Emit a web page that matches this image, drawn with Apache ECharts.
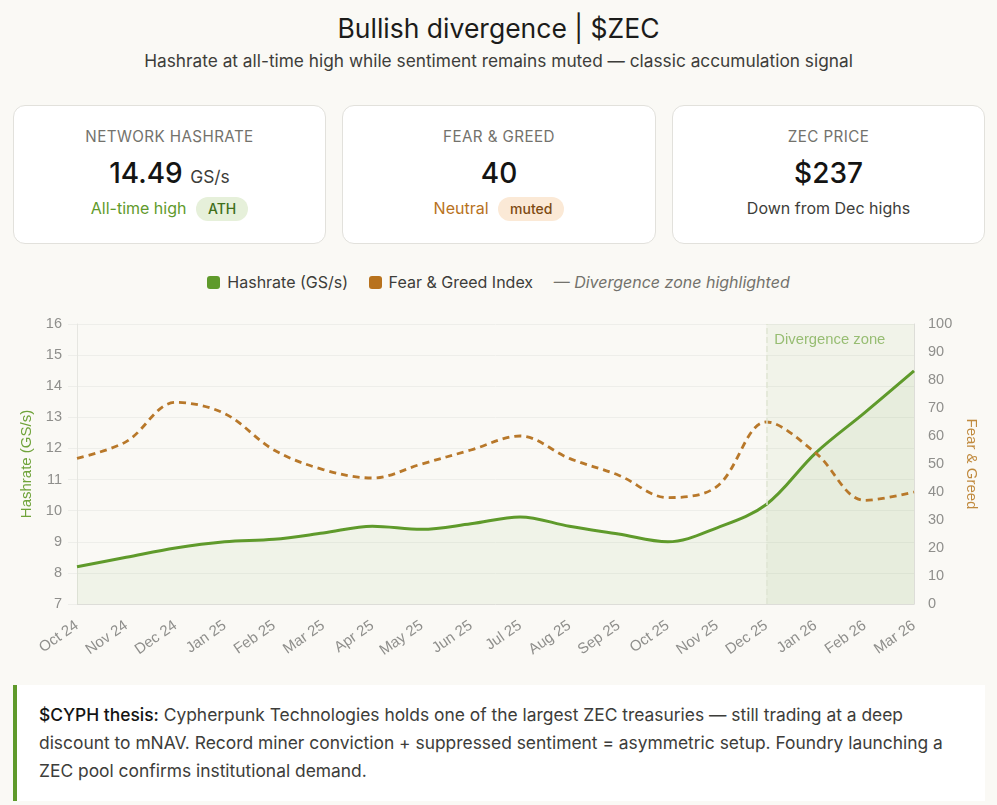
<!DOCTYPE html>
<html>
<head>
<meta charset="utf-8">
<script src="https://cdn.jsdelivr.net/npm/echarts@6/dist/echarts.min.js"></script>
<style>
html,body{margin:0;padding:0;background:#faf9f5;}
body{width:997px;height:805px;overflow:hidden;position:relative;font-family:Inter,"Noto Sans",sans-serif;color:#1c1c1a;}
h1{position:absolute;top:10px;left:0;width:997px;margin:0;text-align:center;font-size:26.5px;font-weight:400;line-height:36px;}
.sub{position:absolute;top:48px;left:0;width:997px;text-align:center;font-size:17.3px;line-height:26px;color:#3d3d3a;}
.card{position:absolute;top:105px;height:137px;background:#fff;border:1px solid #e2e1dc;border-radius:12px;text-align:center;box-sizing:content-box;}
.card .lab{position:absolute;top:21px;left:0;right:0;font-size:15.2px;line-height:20px;color:#73726c;letter-spacing:.4px;}
.card .val{position:absolute;top:48px;left:0;right:0;font-size:28px;line-height:38px;font-weight:500;color:#141413;}
.card .val small{font-size:17.4px;font-weight:400;color:#3d3d3a;}
.card .note{position:absolute;top:89px;left:0;right:0;font-size:16px;line-height:26px;}
.pill{display:inline-block;margin-left:5px;padding:0 12px;border-radius:12px;font-size:14px;font-weight:500;line-height:24px;}
.legend{position:absolute;top:271px;left:0;width:997px;text-align:center;font-size:16px;line-height:22px;color:#3d3d3a;}
.legend span{margin:0 8px;}
.legend i.sw{display:inline-block;width:13px;height:13px;border-radius:3px;margin-right:7px;vertical-align:-1px;}
.legend em{color:#73726c;}
#main{position:absolute;left:0;top:300px;width:997px;height:370px;}
.thesis{position:absolute;left:13px;top:685px;width:928px;padding:16px 18px 0 22px;box-sizing:content-box;height:100px;background:#fff;border-left:4px solid #5f9a2b;font-size:17.4px;line-height:28px;color:#3d3d3a;white-space:nowrap;}
.thesis b{font-weight:500;color:#141413;}
</style>
</head>
<body>
<h1>Bullish divergence | $ZEC</h1>
<div class="sub">Hashrate at all-time high while sentiment remains muted — classic accumulation signal</div>

<div class="card" style="left:13px;width:311px">
  <div class="lab">NETWORK HASHRATE</div>
  <div class="val">14.49 <small>GS/s</small></div>
  <div class="note" style="color:#5f9a2b">All-time high <span class="pill" style="background:#e6f0da;color:#3f6f1a">ATH</span></div>
</div>
<div class="card" style="left:342px;width:312px">
  <div class="lab">FEAR &amp; GREED</div>
  <div class="val">40</div>
  <div class="note" style="color:#b8721d">Neutral <span class="pill" style="background:#fbe9d6;color:#7d4a12">muted</span></div>
</div>
<div class="card" style="left:672px;width:311px">
  <div class="lab">ZEC PRICE</div>
  <div class="val">$237</div>
  <div class="note" style="color:#3d3d3a">Down from Dec highs</div>
</div>

<div class="legend">
  <span><i class="sw" style="background:#5f9a2b"></i>Hashrate (GS/s)</span>
  <span><i class="sw" style="background:#b8721d"></i>Fear &amp; Greed Index</span>
  <span><em>— Divergence zone highlighted</em></span>
</div>

<div id="main"></div>

<div class="thesis"><b>$CYPH thesis:</b> Cypherpunk Technologies holds one of the largest ZEC treasuries — still trading at a deep<br>discount to mNAV. Record miner conviction + suppressed sentiment = asymmetric setup. Foundry launching a<br>ZEC pool confirms institutional demand.</div>

<script>
var months = ['Oct 24','Nov 24','Dec 24','Jan 25','Feb 25','Mar 25','Apr 25','May 25','Jun 25','Jul 25','Aug 25','Sep 25','Oct 25','Nov 25','Dec 25','Jan 26','Feb 26','Mar 26'];
var hashrate = [8.2,8.5,8.8,9.0,9.08,9.28,9.5,9.4,9.58,9.8,9.5,9.25,9.0,9.45,10.2,11.85,13.15,14.49];
var fearGreed = [52,58,72,68,55,48,45,50,55,60,52,46,38,42,65,54,37,40];

(function(){
    var myChart = echarts.init(document.getElementById('main'));
    var gridColor = '#eeeeea';
    var tickColor = '#8f8f8c';

    var option = {
        animation: false,
        backgroundColor: 'transparent',
        grid: {left: 77, right: 83, top: 24, bottom: 66},
        xAxis: {
            type: 'category',
            boundaryGap: false,
            data: months,
            axisLine: {lineStyle: {color: '#ddddd8'}},
            axisTick: {show: false},
            splitLine: {show: false},
            axisLabel: {
                interval: 0,
                rotate: 35,
                margin: 20,
                fontSize: 15,
                fontFamily: 'Liberation Sans',
                color: tickColor
            }
        },
        yAxis: [
            {
                type: 'value',
                min: 7,
                max: 16,
                interval: 1,
                name: 'Hashrate (GS/s)',
                nameLocation: 'middle',
                nameGap: 43,
                nameTextStyle: {color: '#6fa33a', fontSize: 15, fontFamily: 'Liberation Sans'},
                axisLine: {show: true, lineStyle: {color: '#e6e6e1'}},
                axisTick: {show: true, length: 9, lineStyle: {color: gridColor}},
                splitLine: {lineStyle: {color: gridColor}},
                axisLabel: {margin: 15, fontSize: 14.5, fontFamily: 'Liberation Sans', color: tickColor}
            },
            {
                type: 'value',
                min: 0,
                max: 100,
                interval: 10,
                name: 'Fear & Greed',
                nameLocation: 'middle',
                nameRotate: -90,
                nameGap: 50,
                nameTextStyle: {color: '#c08a3e', fontSize: 15, fontFamily: 'Liberation Sans'},
                axisLine: {show: true, lineStyle: {color: '#ddddd8'}},
                axisTick: {show: false},
                splitLine: {show: false},
                axisLabel: {margin: 14, fontSize: 14.5, fontFamily: 'Liberation Sans', color: tickColor}
            }
        ],
        series: [
            {
                name: 'Hashrate (GS/s)',
                type: 'line',
                yAxisIndex: 0,
                data: hashrate,
                smooth: 0.35,
                symbol: 'none',
                lineStyle: {color: '#5f9a2b', width: 3},
                areaStyle: {color: 'rgba(95,154,43,0.09)', origin: 'start'},
                markArea: {
                    silent: true,
                    itemStyle: {color: 'rgba(95,154,43,0.06)'},
                    label: {
                        show: true,
                        position: 'insideTopLeft',
                        distance: 0,
                        offset: [8, 8],
                        color: '#97bd72',
                        fontSize: 14.8,
                        fontFamily: 'Liberation Sans'
                    },
                    data: [[{name: 'Divergence zone', xAxis: 'Dec 25'}, {xAxis: 'Mar 26'}]]
                },
                markLine: {
                    silent: true,
                    symbol: 'none',
                    label: {show: false},
                    lineStyle: {color: '#dfe5d4', type: 'dashed', width: 1.5},
                    data: [{xAxis: 'Dec 25'}]
                }
            },
            {
                name: 'Fear & Greed Index',
                type: 'line',
                yAxisIndex: 1,
                data: fearGreed,
                smooth: 0.35,
                symbol: 'none',
                lineStyle: {color: '#b8782a', width: 2.8, type: [7, 5]}
            }
        ]
    };
    myChart.setOption(option);
})();
</script>
</body>
</html>
